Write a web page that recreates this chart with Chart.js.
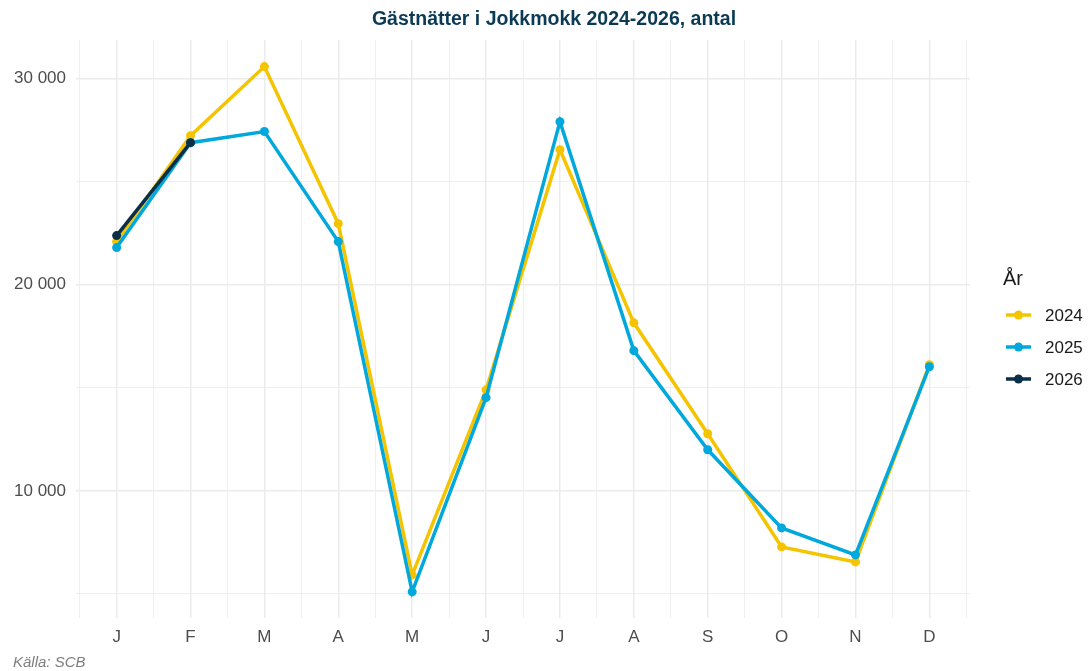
<!DOCTYPE html>
<html>
<head>
<meta charset="utf-8">
<script src="https://cdn.jsdelivr.net/npm/chart.js@4"></script>
<style>
  body { margin: 0; background: #fff; }
  #wrap { position: relative; width: 1088px; height: 671px; }
  #title { position: absolute; left: 0; top: 7px; width: 1108px; text-align: center; font: bold 19.5px 'Liberation Sans', Arial, sans-serif; color: #0b3a55; }
  #caption { position: absolute; left: 13px; top: 653px; font: italic 15px 'Liberation Sans', Arial, sans-serif; color: #7f7f7f; }
</style>
</head>
<body>
<div id="wrap">
  <canvas id="chart"></canvas>
  <div id="title">Gästnätter i Jokkmokk 2024-2026, antal</div>
  <div id="caption">Källa: SCB</div>
</div>
<script>
// data
const months = ['J', 'F', 'M', 'A', 'M', 'J', 'J', 'A', 'S', 'O', 'N', 'D'];
const years = ['2024', '2025', '2026'];
const values2024 = [22100, 27230, 30580, 22960, 5920, 14900, 26550, 18150, 12770, 7280, 6550, 16120];
const values2025 = [21800, 26890, 27430, 22090, 5100, 14520, 27910, 16800, 11990, 8200, 6890, 16020];
const values2026 = [22380, 26890];
const yTicks = [5000, 10000, 15000, 20000, 25000, 30000];
const colors = ['#f5c400', '#00a8dc', '#0b2f47'];

const series = [values2024, values2025, values2026];

function fmt(v) {
    return String(v).replace(/\B(?=(\d{3})+(?!\d))/g, ' ');
}

// legend on the right: line with a dot, like the reference
const sideLegend = {
    id: 'sideLegend',
    afterDraw(chart) {
        const ctx = chart.ctx;
        const x0 = chart.chartArea.right + 33;
        const cy = (chart.chartArea.top + chart.chartArea.bottom) / 2;
        ctx.save();
        ctx.fillStyle = '#1a1a1a';
        ctx.font = "20px 'Liberation Sans', Arial, sans-serif";
        ctx.textBaseline = 'middle';
        ctx.fillText('År', x0, cy - 50);
        years.forEach((y, i) => {
            const yy = cy - 14 + i * 32;
            ctx.strokeStyle = colors[i];
            ctx.lineWidth = 3.5;
            ctx.beginPath();
            ctx.moveTo(x0 + 3, yy);
            ctx.lineTo(x0 + 28, yy);
            ctx.stroke();
            ctx.fillStyle = colors[i];
            ctx.beginPath();
            ctx.arc(x0 + 15.5, yy, 4.5, 0, Math.PI * 2);
            ctx.fill();
            ctx.fillStyle = '#1a1a1a';
            ctx.font = "17px 'Liberation Sans', Arial, sans-serif";
            ctx.fillText(y, x0 + 42, yy + 1);
        });
        ctx.restore();
    }
};

Chart.defaults.font.family = "'Liberation Sans', Arial, sans-serif";

const datasets = years.map((y, i) => ({
    label: y,
    data: series[i].map((v, j) => ({ x: j, y: v })),
    borderColor: colors[i],
    backgroundColor: colors[i],
    borderWidth: 3.5,
    pointRadius: 4.5,
    pointHoverRadius: 4.5,
    pointBorderWidth: 0,
    tension: 0,
    order: 2 - i
}));

new Chart(document.getElementById('chart'), {
    type: 'line',
    data: { datasets: datasets },
    options: {
        responsive: true,
        maintainAspectRatio: false,
        animation: false,
        layout: { padding: { left: 0, right: 118, top: 40, bottom: 20 } },
        plugins: {
            legend: { display: false },
            tooltip: { enabled: false },
            title: { display: false }
        },
        scales: {
            x: {
                type: 'linear',
                min: -0.55,
                max: 11.55,
                afterBuildTicks: (s) => {
                    const t = [];
                    for (let v = -0.5; v <= 11.5; v += 0.5) t.push({ value: v });
                    s.ticks = t;
                },
                afterFit: (s) => { s.height = 33; },
                border: { display: false },
                grid: {
                    drawTicks: false,
                    color: '#ebebeb',
                    lineWidth: (c) => Number.isInteger(c.tick.value) ? 1.5 : 0.8
                },
                ticks: {
                    autoSkip: false,
                    maxRotation: 0,
                    padding: 9,
                    color: '#4d4d4d',
                    font: { size: 17 },
                    callback: (v) => Number.isInteger(v) ? months[v] : ''
                }
            },
            y: {
                min: 3830,
                max: 31870,
                afterBuildTicks: (s) => { s.ticks = yTicks.map(v => ({ value: v })); },
                afterFit: (s) => { s.width = 76; },
                border: { display: false },
                grid: {
                    drawTicks: false,
                    color: '#ebebeb',
                    lineWidth: (c) => c.tick.value % 10000 === 0 ? 1.5 : 0.8
                },
                ticks: {
                    padding: 10,
                    color: '#4d4d4d',
                    font: { size: 17 },
                    callback: (v) => v % 10000 === 0 ? fmt(v) : ''
                }
            }
        }
    },
    plugins: [sideLegend]
});
</script>
</body>
</html>
